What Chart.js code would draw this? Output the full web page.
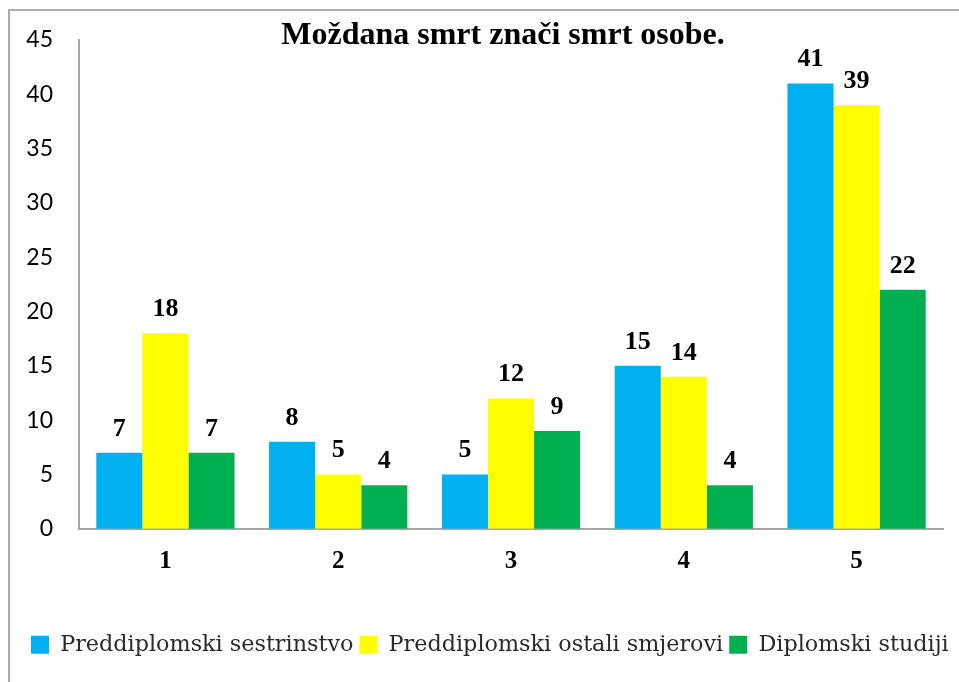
<!DOCTYPE html>
<html>
<head>
<meta charset="utf-8">
<script src="https://cdn.jsdelivr.net/npm/chart.js@4"></script>
<style>
  html, body { margin: 0; padding: 0; background: #fff; overflow: hidden; }
  #wrap { position: relative; width: 959px; height: 682px; overflow: hidden; }
  #frame { position: absolute; left: 8px; top: 9px; width: 3000px; height: 3000px;
           border-top: 2px solid #ababab; border-left: 2px solid #ababab; }
  canvas { position: absolute; left: 0; top: 0; }
</style>
</head>
<body>
<div id="wrap">
  <div id="frame"></div>
  <canvas id="canvas" width="959" height="682"></canvas>
</div>
<script>
// chart data
const categories = ['1', '2', '3', '4', '5'];
const seriesNames = ['Preddiplomski sestrinstvo', 'Preddiplomski ostali smjerovi', 'Diplomski studiji'];
const sestrinstvo = [7, 8, 5, 15, 41];
const ostaliSmjerovi = [18, 5, 12, 14, 39];
const diplomski = [7, 4, 9, 4, 22];
const yTicks = [0, 5, 10, 15, 20, 25, 30, 35, 40, 45];
const chartTitle = 'Moždana smrt znači smrt osobe.';

const colors = ['#00B0F0', '#FFFF00', '#00B050'];

// draws the title over the top of the plot
const titlePlugin = {
  id: 'overTitle',
  afterDraw(chart) {
    const ctx = chart.ctx;
    const area = chart.chartArea;
    ctx.save();
    ctx.font = 'bold 32px "Liberation Serif"';
    ctx.fillStyle = '#000';
    ctx.textAlign = 'center';
    ctx.textBaseline = 'alphabetic';
    ctx.fillText(chartTitle, (area.left + area.right) / 2 - 8, 44);
    ctx.restore();
  }
};

// value labels above every bar
const valueLabels = {
  id: 'valueLabels',
  afterDatasetsDraw(chart) {
    const ctx = chart.ctx;
    ctx.save();
    ctx.font = 'bold 26px "Liberation Serif"';
    ctx.fillStyle = '#000';
    ctx.textAlign = 'center';
    ctx.textBaseline = 'alphabetic';
    chart.data.datasets.forEach((ds, i) => {
      chart.getDatasetMeta(i).data.forEach((bar, j) => {
        ctx.fillText(String(ds.data[j]), bar.x, bar.y - 17);
      });
    });
    ctx.restore();
  }
};

new Chart(document.getElementById('canvas').getContext('2d'), {
  type: 'bar',
  data: {
    labels: categories,
    datasets: [
      { label: seriesNames[0], data: sestrinstvo, backgroundColor: colors[0] },
      { label: seriesNames[1], data: ostaliSmjerovi, backgroundColor: colors[1] },
      { label: seriesNames[2], data: diplomski, backgroundColor: colors[2] }
    ]
  },
  options: {
    responsive: false,
    animation: false,
    events: [],
    categoryPercentage: 0.8,
    barPercentage: 1.0,
    layout: { padding: { top: 40, right: 0, bottom: 16, left: 25 } },
    plugins: {
      tooltip: { enabled: false },
      title: { display: false },
      legend: {
        display: true,
        position: 'bottom',
        align: 'start',
        labels: {
          boxWidth: 18,
          boxHeight: 18,
          padding: 6,
          color: '#2a2a2a',
          font: { family: '"DejaVu Serif"', size: 22.3 }
        }
      }
    },
    scales: {
      x: {
        grid: { display: false, drawTicks: false },
        border: { display: true, color: '#a6a6a6', width: 2 },
        ticks: {
          color: '#000',
          padding: 18,
          font: { family: '"Liberation Serif"', size: 25, weight: 'bold' }
        },
        afterFit(scale) { scale.height = 99; }
      },
      y: {
        min: 0,
        max: 45,
        grid: { display: false, drawTicks: false },
        border: { display: true, color: '#a6a6a6', width: 2 },
        afterBuildTicks(scale) { scale.ticks = yTicks.map(v => ({ value: v })); },
        ticks: {
          color: '#000',
          padding: 26,
          font: { family: 'Lato', size: 23 }
        },
        afterFit(scale) { scale.width = 54; }
      },
      // empty right axis, only keeps the plot away from the right edge
      yRight: {
        position: 'right',
        display: true,
        min: 0,
        max: 45,
        grid: { display: false, drawTicks: false },
        border: { display: false },
        ticks: { display: false },
        afterFit(scale) { scale.width = 16; }
      }
    }
  },
  plugins: [titlePlugin, valueLabels]
});
</script>
</body>
</html>
